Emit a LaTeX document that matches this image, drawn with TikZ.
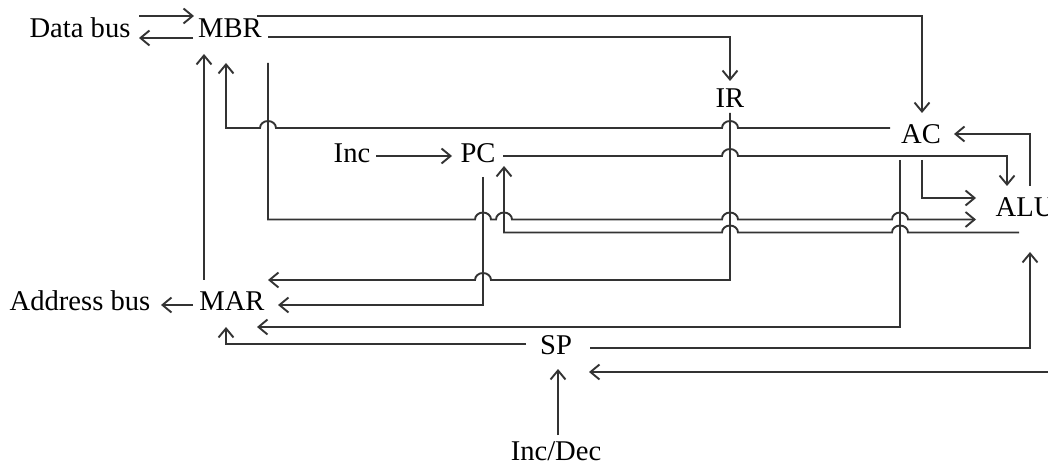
\documentclass[tikz,border=0pt]{standalone}
\usepackage{fontspec}
\setmainfont{Liberation Serif}
\usetikzlibrary{arrows.meta, calc}

% line hops over a crossing wire, going right / going left
\newcommand{\hopr}[2]{-- (#1-8,#2) arc (180:360:8 and 7)}
\newcommand{\hopl}[2]{-- (#1+8,#2) arc (0:-180:8 and 7)}

\begin{document}
\begin{tikzpicture}[
    x=0.5pt, y=-0.5pt,
    % Registers and bus labels
    reg/.style={font=\fontsize{14.3}{16}\selectfont, anchor=base, inner sep=0pt},
    % Wires
    wire/.style={line width=0.95pt, draw=black!80},
    arr/.style={wire, -{Straight Barb[length=4.5pt,width=7.5pt]}}
]
\useasboundingbox (0,0) rectangle (1048,464);

% ===============================
% Registers
% ===============================
\node[reg] (databus) at (80,38) {Data bus};
\node[reg] (mbr) at (230,38) {MBR};
\node[reg] (ir) at (730,108) {IR};
\node[reg] (ac) at (921,144) {AC};
\node[reg] (inc) at (352,163) {Inc};
\node[reg] (pc) at (478,163) {PC};
\node[reg] (alu) at (1025,217) {ALU};
\node[reg] (addrbus) at (80,311) {Address bus};
\node[reg] (mar) at (232,311) {MAR};
\node[reg] (sp) at (556,354) {SP};
\node[reg] (incdec) at (556,460) {Inc/Dec};

% ===============================
% Buses
% ===============================
\draw[arr] ($(databus.base)+(59,-22)$) -- ($(mbr.base)+(-36,-22)$);
\draw[arr] ($(mbr.base)+(-37,0)$) -- ($(databus.base)+(59,0)$);
\draw[arr] ($(mar.base)+(-39,-6)$) -- ($(addrbus.base)+(81,-6)$);
\draw[arr] ($(mar.base)+(-28,-31)$) -- ($(mbr.base)+(-26,16)$);

% MBR outputs
\draw[arr] ($(mbr.base)+(27,-22)$) -| ($(ac.base)+(1,-31)$);
\draw[arr] ($(mbr.base)+(38,-1)$) -| ($(ir.base)+(0,-27)$);
\draw[arr] ($(mbr.base)+(38,25)$) -- (268,219.5) \hopr{483}{219.5} \hopr{504}{219.5} \hopr{730}{219.5} \hopr{900}{219.5} -- ($(alu.base)+(-49,2.5)$);

% AC
\draw[arr] ($(ac.base)+(-31,-16)$) \hopl{730}{128} \hopl{268}{128} -- (226,128) -- ($(mbr.base)+(-4,25)$);
\draw[arr] ($(ac.base)+(-21,16)$) -- (900,327) -- ($(mar.base)+(25,16)$);
\draw[arr] ($(ac.base)+(1,16)$) |- ($(alu.base)+(-49,-19)$);
\draw[arr] ($(alu.base)+(5,-31)$) |- ($(ac.base)+(33,-10)$);

% IR
\draw[arr] ($(ir.base)+(0,5)$) -- (730,280) \hopl{483}{280} -- ($(mar.base)+(36,-31)$);

% PC
\draw[arr] ($(inc.base)+(24,-7)$) -- ($(pc.base)+(-26,-7)$);
\draw[arr] ($(pc.base)+(5,14)$) |- ($(mar.base)+(46,-6)$);
\draw[arr] ($(pc.base)+(25,-7)$) \hopr{730}{156} -- (1007,156) -- ($(alu.base)+(-18,-31)$);
\draw[arr] ($(alu.base)+(-6,15.5)$) \hopl{900}{232.5} \hopl{730}{232.5} -- (504,232.5) -- ($(pc.base)+(26,3)$);

% SP
\coordinate (spin) at (1048,372);
\draw[arr] ($(sp.base)+(34,-6)$) -| ($(alu.base)+(5,35)$);
\draw[arr] (spin) -- ($(sp.base)+(33,18)$);
\draw[arr] ($(sp.base)+(-30,-10)$) -| ($(mar.base)+(-6,16)$);
\draw[arr] ($(incdec.base)+(2,-25)$) -- ($(sp.base)+(2,15)$);

\end{tikzpicture}
\end{document}
